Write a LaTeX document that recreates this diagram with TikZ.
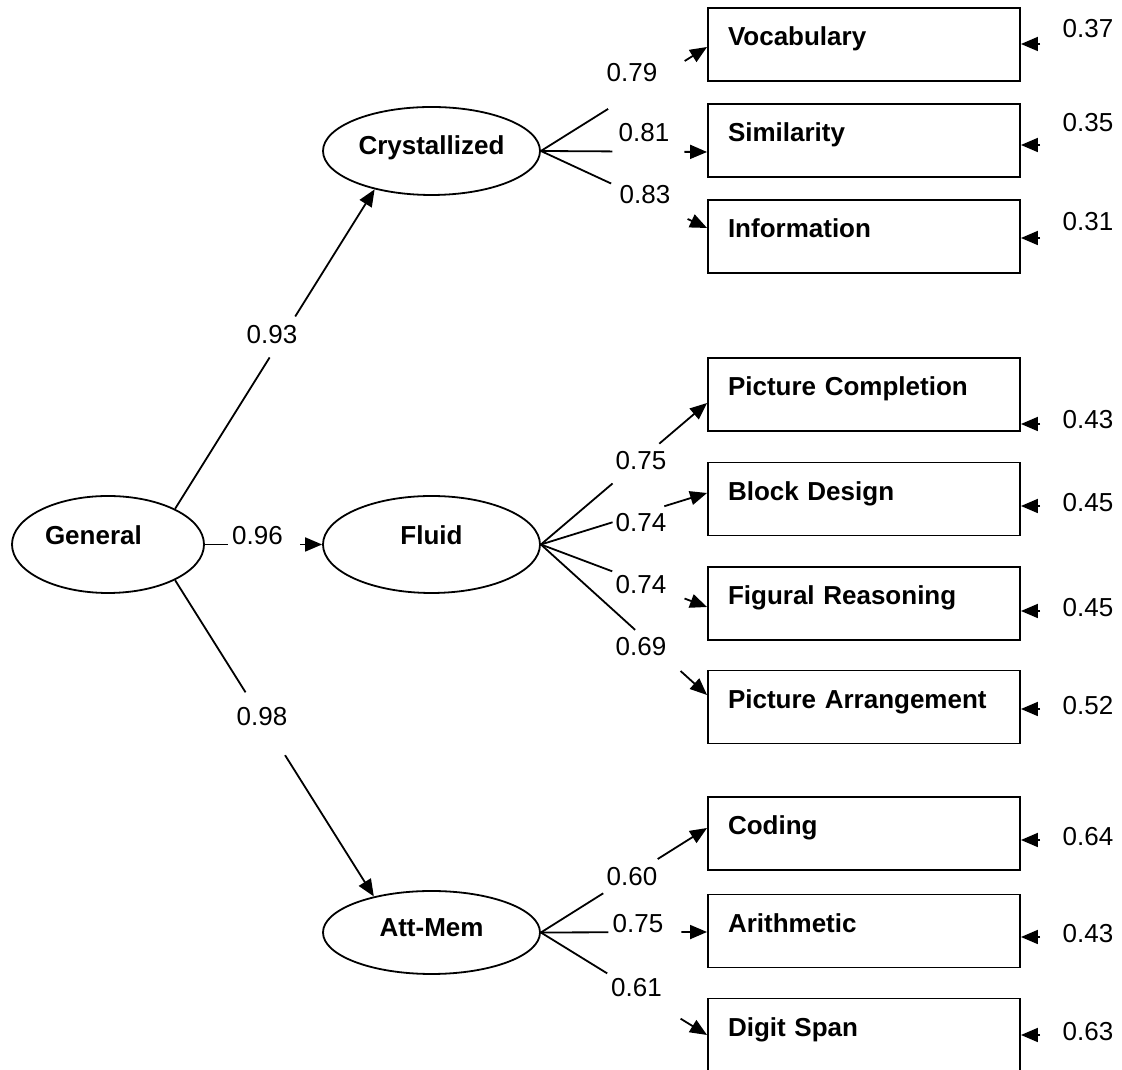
\documentclass[tikz,border=0pt]{standalone}
\usepackage{fontspec}
\setmainfont{Liberation Sans}
\usetikzlibrary{arrows.meta,shapes.geometric}

\begin{document}
\begin{tikzpicture}[
  x=1pt, y=1pt,
  font=\fontsize{26}{30}\selectfont,
  box/.style={draw, line width=1.9pt, inner xsep=20pt, inner ysep=0pt, text width=272pt, align=left, text height=38pt, text depth=35pt, font=\fontsize{26}{30}\selectfont\bfseries},
  latent/.style={draw, ellipse, line width=1.8pt, inner sep=0pt, minimum width=217pt, text height=18pt, text depth=18pt, font=\fontsize{26}{30}\selectfont\bfseries},
  line/.style={line width=1.8pt, -{Triangle[length=17pt, width=14pt]}},
  gap/.style={sloped, fill=white, inner sep=0pt, minimum height=6pt},
  num/.style={inner sep=0pt}
]
\useasboundingbox (0,0) rectangle (1122,1070);

% factors
\node[latent, minimum width=192pt, minimum height=97pt, text width=126pt, align=left] (gen) at (108,525.5) {General};
\node[latent, minimum height=88pt, text depth=10pt] (cry) at (431.5,919) {Crystallized};
\node[latent, minimum height=97pt] (flu) at (431.5,525.5) {Fluid};
\node[latent, minimum height=83pt, text depth=10pt] (att) at (431.5,137.5) {Att-Mem};

% subtests
\node[box] (voc) at (864,1025.5) {Vocabulary};
\node[box] (sim) at (864,929.5) {Similarity};
\node[box] (inf) at (864,833.5) {Information};
\node[box] (pc) at (864,675.5) {Picture Completion};
\node[box] (bd) at (864,571) {Block Design};
\node[box] (fr) at (864,466.5) {Figural Reasoning};
\node[box] (pa) at (864,363) {Picture Arrangement};
\node[box] (cod) at (864,236.5) {Coding};
\node[box] (ari) at (864,139) {Arithmetic};
\node[box] (ds) at (864,35) {Digit Span};

% second order loadings
\draw[line] (gen.28) -- node[gap, pos=0.538, minimum width=48pt] {} (cry.214);
\draw[line] (gen.east) -- node[gap, pos=0.504, minimum width=72pt] {} (flu.west);
\draw[line] (gen.332) -- node[gap, pos=0.454, minimum width=74pt] {} (att.148);
\node[num] (lcry) at (272,735) {0.93};
\node[num] (lflu) at (257.5,534) {0.96};
\node[num] (latt) at (262,353) {0.98};

% first order loadings
\draw[line] (cry.east) -- node[gap, pos=0.635, minimum width=90pt] {} ([yshift=-2.5pt]voc.west);
\draw[line] (cry.east) -- node[gap, pos=0.647, minimum width=72pt] {} ([yshift=-11.5pt]sim.west);
\draw[line] (cry.east) -- node[gap, pos=0.653, minimum width=84pt] {} ([yshift=8.5pt]inf.west);
\draw[line] (flu.east) -- node[gap, pos=0.572, minimum width=61pt] {} ([yshift=-8.5pt]pc.west);
\draw[line] (flu.east) -- node[gap, pos=0.587, minimum width=54pt] {} ([yshift=6pt]bd.west);
\draw[line] (flu.east) -- node[gap, pos=0.647, minimum width=77pt] {} ([yshift=-3.5pt]fr.west);
\draw[line] (flu.east) -- node[gap, pos=0.704, minimum width=61pt] {} ([yshift=12pt]pa.west);
\draw[line] (att.east) -- node[gap, pos=0.539, minimum width=64pt] {} ([yshift=5.5pt]cod.west);
\draw[line] (att.east) -- node[gap, pos=0.626, minimum width=73pt] {} ([yshift=-1pt]ari.west);
\draw[line] (att.east) -- node[gap, pos=0.620, minimum width=86pt] {} (ds.west);
\node[num] (lvoc) at (632,997.5) {0.79};
\node[num] (lsim) at (644,937) {0.81};
\node[num] (linf) at (645,875) {0.83};
\node[num] (lpc) at (641,609) {0.75};
\node[num] (lbd) at (641,547) {0.74};
\node[num] (lfr) at (641,485) {0.74};
\node[num] (lpa) at (641,423) {0.69};
\node[num] (lcod) at (632,193.5) {0.60};
\node[num] (lari) at (638,146) {0.75};
\node[num] (lds) at (636.5,82) {0.61};

% residuals
\coordinate (uvoc) at (1040,1026);
\coordinate (usim) at (1040,925);
\coordinate (uinf) at (1040,832);
\coordinate (upc) at (1040,646);
\coordinate (ubd) at (1040,564);
\coordinate (ufr) at (1040,459);
\coordinate (upa) at (1040,361);
\coordinate (ucod) at (1040,230);
\coordinate (uari) at (1040,133);
\coordinate (uds) at (1040,35);
\draw[line] (uvoc) -- (uvoc -| voc.east);
\draw[line] (usim) -- (usim -| sim.east);
\draw[line] (uinf) -- (uinf -| inf.east);
\draw[line] (upc) -- (upc -| pc.east);
\draw[line] (ubd) -- (ubd -| bd.east);
\draw[line] (ufr) -- (ufr -| fr.east);
\draw[line] (upa) -- (upa -| pa.east);
\draw[line] (ucod) -- (ucod -| cod.east);
\draw[line] (uari) -- (uari -| ari.east);
\draw[line] (uds) -- (uds -| ds.east);
\node[num] (evoc) at (1088,1041.5) {0.37};
\node[num] (esim) at (1088,947.5) {0.35};
\node[num] (einf) at (1088,848.5) {0.31};
\node[num] (epc) at (1088,650) {0.43};
\node[num] (ebd) at (1088,567) {0.45};
\node[num] (efr) at (1088,462) {0.45};
\node[num] (epa) at (1088,364) {0.52};
\node[num] (ecod) at (1088,233) {0.64};
\node[num] (eari) at (1088,136) {0.43};
\node[num] (eds) at (1088,38) {0.63};
\end{tikzpicture}
\end{document}
